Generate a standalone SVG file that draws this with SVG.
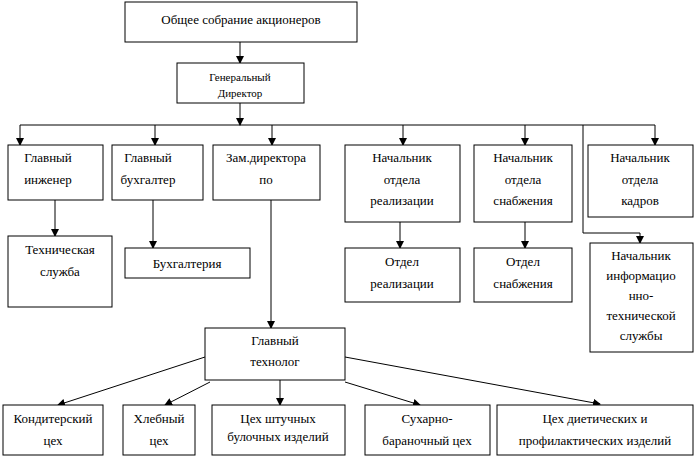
<svg xmlns="http://www.w3.org/2000/svg" width="697" height="457" viewBox="0 0 697 457">
<style>
rect{fill:#fff;stroke:#000;stroke-width:1}
text{font-family:"Liberation Serif",serif;font-size:13px;text-anchor:middle;fill:#000}
.s{font-size:11px}
#c line,#c polyline{stroke:#000;stroke-width:1;fill:none}
</style>
<defs><marker id="a" markerWidth="8" markerHeight="8" refX="7" refY="4" orient="auto" markerUnits="userSpaceOnUse"><path d="M0,0 L8,4 L0,8z" fill="#000"/></marker></defs>
<rect x="0" y="0" width="697" height="457" style="stroke:none"/>
<g id="c">
<line x1="240" y1="42" x2="240" y2="63" marker-end="url(#a)"/>
<line x1="240" y1="103" x2="240" y2="125" marker-end="url(#a)"/>
<line x1="20" y1="125" x2="655" y2="125"/>
<line x1="20" y1="125" x2="20" y2="145" marker-end="url(#a)"/>
<line x1="155" y1="125" x2="155" y2="145" marker-end="url(#a)"/>
<line x1="272" y1="125" x2="272" y2="145" marker-end="url(#a)"/>
<line x1="403" y1="125" x2="403" y2="145" marker-end="url(#a)"/>
<line x1="525" y1="125" x2="525" y2="145" marker-end="url(#a)"/>
<line x1="655" y1="125" x2="655" y2="145" marker-end="url(#a)"/>
<polyline points="583,125 583,233 640,233 640,243" marker-end="url(#a)"/>
<line x1="55" y1="200" x2="55" y2="236" marker-end="url(#a)"/>
<polyline points="153,200 153,248" marker-end="url(#a)"/>
<line x1="400" y1="222" x2="400" y2="248" marker-end="url(#a)"/>
<line x1="525" y1="222" x2="525" y2="248" marker-end="url(#a)"/>
<line x1="271" y1="200" x2="271" y2="328" marker-end="url(#a)"/>
<line x1="205" y1="357" x2="58" y2="405" marker-end="url(#a)"/>
<line x1="210" y1="382" x2="165" y2="405" marker-end="url(#a)"/>
<line x1="280" y1="380" x2="280" y2="405" marker-end="url(#a)"/>
<line x1="345" y1="382" x2="420" y2="405" marker-end="url(#a)"/>
<line x1="345" y1="357" x2="600" y2="404" marker-end="url(#a)"/>
</g>
<g id="n1"><rect x="125" y="2" width="232" height="40"/><text x="241" y="24">Общее собрание акционеров</text></g>
<g id="n2"><rect x="177" y="63" width="127" height="40"/><text class="s" x="240" y="81">Генеральный</text><text class="s" x="240" y="97">Директор</text></g>
<g id="n3"><rect x="8" y="145" width="95" height="55"/><text x="48" y="162">Главный</text><text x="48" y="184">инженер</text></g>
<g id="n4"><rect x="112" y="145" width="91" height="55"/><text x="148" y="162">Главный</text><text x="148" y="184">бухгалтер</text></g>
<g id="n5"><rect x="213" y="145" width="107" height="55"/><text x="266" y="162">Зам.директора</text><text x="266" y="184">по</text></g>
<g id="n6"><rect x="345" y="145" width="115" height="77"/><text x="402" y="162">Начальник</text><text x="402" y="184">отдела</text><text x="402" y="205">реализации</text></g>
<g id="n7"><rect x="474" y="145" width="98" height="77"/><text x="523" y="162">Начальник</text><text x="523" y="184">отдела</text><text x="523" y="205">снабжения</text></g>
<g id="n8"><rect x="588" y="145" width="105" height="72"/><text x="640" y="162">Начальник</text><text x="640" y="184">отдела</text><text x="640" y="205">кадров</text></g>
<g id="n9"><rect x="8" y="236" width="104" height="71"/><text x="60" y="254">Техническая</text><text x="60" y="276">служба</text></g>
<g id="n10"><rect x="125" y="248" width="125" height="30"/><text x="187" y="268">Бухгалтерия</text></g>
<g id="n11"><rect x="345" y="248" width="115" height="54"/><text x="402" y="266">Отдел</text><text x="402" y="288">реализации</text></g>
<g id="n12"><rect x="474" y="248" width="98" height="54"/><text x="523" y="266">Отдел</text><text x="523" y="288">снабжения</text></g>
<g id="n13"><rect x="590" y="243" width="103" height="109"/><text x="641" y="260">Начальник</text><text x="641" y="280">информацио</text><text x="641" y="300">нно-</text><text x="641" y="320">технической</text><text x="641" y="340">службы</text></g>
<g id="n14"><rect x="205" y="328" width="140" height="52"/><text x="275" y="345">Главный</text><text x="275" y="366">технолог</text></g>
<g id="n15"><rect x="3" y="405" width="100" height="50"/><text x="53" y="423">Кондитерский</text><text x="53" y="445">цех</text></g>
<g id="n16"><rect x="123" y="405" width="72" height="50"/><text x="159" y="423">Хлебный</text><text x="159" y="445">цех</text></g>
<g id="n17"><rect x="212" y="405" width="133" height="50"/><text x="278" y="423">Цех штучных</text><text x="278" y="441">булочных изделий</text></g>
<g id="n18"><rect x="365" y="405" width="125" height="50"/><text x="427" y="423">Сухарно-</text><text x="427" y="445">бараночный цех</text></g>
<g id="n19"><rect x="497" y="405" width="196" height="50"/><text x="595" y="423">Цех диетических и</text><text x="595" y="445">профилактических изделий</text></g>
</svg>
